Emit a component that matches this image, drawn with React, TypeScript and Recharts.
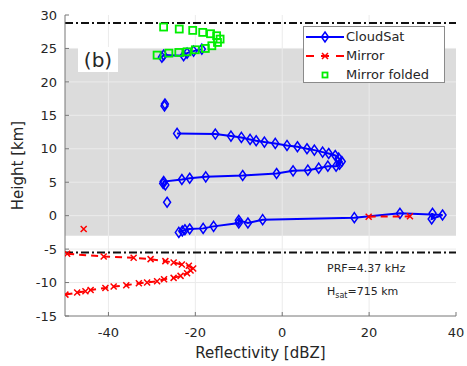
import {
  ScatterChart,
  Scatter,
  XAxis,
  YAxis,
  ReferenceArea,
  ReferenceLine,
} from "recharts"

const FONT = "'DejaVu Sans', sans-serif"
const INK = "#262626"

const xTicks = [-40, -20, 0, 20, 40]
const yTicks = [-15, -10, -5, 0, 5, 10, 15, 20, 25, 30]

// [reflectivity dBZ, height km]
const cloudSatTop: [number, number][] = [
  [-27.7, 23.7], [-27.3, 24.0], [-22.7, 23.9], [-21.9, 24.3], [-20.4, 24.6], [-18.5, 24.9],
]
const cloudSatLone1: [number, number][] = [[-27.1, 16.4], [-27.0, 16.7]]
const cloudSatCurve: [number, number][] = [
  [-24.2, 12.3], [-15.4, 12.2], [-11.8, 11.9], [-9.4, 11.7], [-7.4, 11.4], [-6.0, 11.2],
  [-4.1, 11.0], [-1.6, 10.8], [1.1, 10.5], [3.5, 10.3], [5.7, 10.0], [7.4, 9.8],
  [9.3, 9.5], [10.7, 9.3], [12.2, 9.0], [13.0, 8.6], [13.7, 8.1], [13.2, 7.7],
  [12.4, 7.4], [10.5, 7.4], [8.4, 7.1], [5.9, 6.8], [2.5, 6.7], [-1.3, 6.3],
  [-9.1, 6.0], [-17.6, 5.8], [-21.3, 5.6], [-23.1, 5.4], [-27.3, 5.1], [-27.4, 4.8],
  [-26.9, 4.6],
]
const cloudSatLone2: [number, number][] = [[-26.5, 2.0]]
const cloudSatLow: [number, number][] = [
  [-23.8, -2.5], [-23.0, -2.3], [-22.4, -2.1], [-21.3, -2.0], [-18.2, -1.9], [-15.8, -1.6],
  [-10.0, -1.1], [-10.0, -0.7], [-7.9, -1.1], [-4.5, -0.6], [16.6, -0.3], [27.1, 0.35],
  [36.9, 0.1], [34.4, -0.5], [34.6, 0.35],
]

const mirrorLone: [number, number][] = [[-45.7, -2.0]]
const mirrorNear: [number, number][] = [[19.9, -0.15], [29.4, -0.1]]
const mirrorLow: [number, number][] = [
  [-49.5, -5.7], [-41.1, -6.1], [-34.2, -6.3], [-30.3, -6.5], [-26.9, -6.8], [-25.0, -7.0],
  [-23.1, -7.3], [-21.5, -7.5], [-20.5, -7.9], [-21.1, -8.2], [-21.9, -8.6], [-23.4, -9.0],
  [-25.0, -9.3], [-27.2, -9.5], [-28.8, -9.8], [-31.1, -10.0], [-33.0, -10.1], [-35.9, -10.4],
  [-38.8, -10.6], [-40.7, -10.8], [-44.1, -11.1], [-45.3, -11.3], [-47.2, -11.5], [-49.9, -11.8],
]

const mirrorFolded: [number, number][] = [
  [-27.3, 28.2], [-23.7, 27.9], [-20.6, 27.7], [-18.3, 27.4], [-16.5, 27.2], [-15.1, 26.9],
  [-14.3, 26.4], [-14.9, 25.9], [-16.2, 25.4], [-17.7, 25.0], [-20.0, 24.8], [-21.9, 24.5],
  [-23.8, 24.4], [-26.1, 24.3], [-28.8, 24.0],
]

const shadedBand = [-3, 25]
const aliasLines = [28.8, -5.5]

const pts = (a: [number, number][]) => a.map(([x, y]) => ({ x, y }))

const BLUE = "#0000ff"
const RED = "#ff0000"
const GREEN = "#00ee00"

const Diamond = (p: any) => (
  <path
    d={`M${p.cx},${p.cy - 5}L${p.cx + 3.5},${p.cy}L${p.cx},${p.cy + 5}L${p.cx - 3.5},${p.cy}Z`}
    fill="none"
    stroke={BLUE}
    strokeWidth={1.5}
  />
)
const Cross = (p: any) => (
  <path
    d={`M${p.cx - 3},${p.cy - 3}L${p.cx + 3},${p.cy + 3}M${p.cx - 3},${p.cy + 3}L${p.cx + 3},${p.cy - 3}`}
    stroke={RED}
    strokeWidth={1.5}
  />
)
const Square = (p: any) => (
  <rect x={p.cx - 3.5} y={p.cy - 3.5} width={7} height={7} fill="none" stroke={GREEN} strokeWidth={1.8} />
)

const blueLine = { stroke: BLUE, strokeWidth: 2 }
const redLine = { stroke: RED, strokeWidth: 2, strokeDasharray: "7 5" }

function LegendBox() {
  const row = { display: "flex", alignItems: "center", height: 19 }
  return (
    <div
      style={{
        position: "absolute",
        left: 303,
        top: 26,
        width: 142,
        height: 57,
        background: "#fff",
        border: "1px solid #8a8a8a",
        fontFamily: FONT,
        fontSize: 13,
        color: INK,
        boxSizing: "border-box",
        paddingTop: 0,
      }}
    >
      <div style={row}>
        <svg width={42} height={14}>
          <line x1={2} y1={7} x2={40} y2={7} stroke={BLUE} strokeWidth={2} />
          <Diamond cx={21} cy={7} />
        </svg>
        <span>CloudSat</span>
      </div>
      <div style={row}>
        <svg width={42} height={14}>
          <line x1={2} y1={7} x2={40} y2={7} stroke={RED} strokeWidth={2} strokeDasharray="8 7" />
          <Cross cx={21} cy={7} />
        </svg>
        <span>Mirror</span>
      </div>
      <div style={row}>
        <svg width={42} height={14}>
          <rect x={18.5} y={4.5} width={5} height={5} fill="none" stroke={GREEN} strokeWidth={1.8} />
        </svg>
        <span>Mirror folded</span>
      </div>
    </div>
  )
}

export default function App() {
  return (
    <div style={{ position: "absolute", left: 0, top: 0, width: 467, height: 366, background: "#fff" }}>
      <ScatterChart width={467} height={366} margin={{ top: 15, right: 11, left: 0, bottom: 0 }}>
        <XAxis
          type="number"
          dataKey="x"
          domain={[-50, 40]}
          ticks={xTicks}
          allowDataOverflow
          height={50}
          tickSize={-4}
          tickMargin={16}
          stroke="#777"
          tick={{ fontSize: 13, fill: INK, fontFamily: FONT }}
          label={{
            value: "Reflectivity [dBZ]",
            position: "insideBottom",
            offset: 8,
            style: { fontSize: 15, fill: INK, fontFamily: FONT },
          }}
        />
        <XAxis
          xAxisId="top"
          orientation="top"
          type="number"
          domain={[-50, 40]}
          ticks={xTicks}
          height={0}
          tickSize={-4}
          tick={false}
          stroke="#777"
        />
        <YAxis
          type="number"
          dataKey="y"
          domain={[-15, 30]}
          ticks={yTicks}
          allowDataOverflow
          width={65}
          tickSize={-4}
          tickMargin={12}
          stroke="#777"
          tick={{ fontSize: 13, fill: INK, fontFamily: FONT }}
          label={{
            value: "Height [km]",
            angle: -90,
            position: "insideLeft",
            offset: 18,
            style: { fontSize: 15, fill: INK, fontFamily: FONT, textAnchor: "middle" },
          }}
        />
        <YAxis
          yAxisId="right"
          orientation="right"
          type="number"
          domain={[-15, 30]}
          ticks={yTicks}
          width={0}
          tickSize={-4}
          tick={false}
          stroke="#777"
        />
        <ReferenceArea
          y1={shadedBand[0]}
          y2={shadedBand[1]}
          x1={-50}
          x2={40}
          fill="#dcdcdc"
          fillOpacity={1}
          stroke="none"
        />
        {xTicks.slice(0, -1).map((t) => (
          <ReferenceLine key={"gx" + t} x={t} stroke="#ebebeb" strokeWidth={1} />
        ))}
        {yTicks.slice(1, -1).map((t) => (
          <ReferenceLine key={"gy" + t} y={t} stroke="#ebebeb" strokeWidth={1} />
        ))}
        {aliasLines.map((h) => (
          <ReferenceLine key={"a" + h} y={h} stroke="#111" strokeWidth={2} strokeDasharray="8 3 2 3" />
        ))}
        <Scatter name="Mirror" data={pts(mirrorLow)} line={redLine} shape={Cross} isAnimationActive={false} />
        <Scatter data={pts(mirrorLone)} shape={Cross} isAnimationActive={false} />
        <Scatter name="CloudSat" data={pts(cloudSatTop)} line={blueLine} shape={Diamond} isAnimationActive={false} />
        <Scatter data={pts(cloudSatLone1)} shape={Diamond} isAnimationActive={false} />
        <Scatter data={pts(cloudSatCurve)} line={blueLine} shape={Diamond} isAnimationActive={false} />
        <Scatter data={pts(cloudSatLone2)} shape={Diamond} isAnimationActive={false} />
        <Scatter data={pts(cloudSatLow)} line={blueLine} shape={Diamond} isAnimationActive={false} />
        <Scatter data={pts(mirrorNear)} line={redLine} shape={Cross} isAnimationActive={false} />
        <Scatter name="Mirror folded" data={pts(mirrorFolded)} shape={Square} isAnimationActive={false} />
      </ScatterChart>
      <LegendBox />
      <div
        style={{
          position: "absolute",
          left: 78,
          top: 47,
          width: 40,
          height: 25,
          background: "#fff",
          fontFamily: FONT,
          fontSize: 20,
          color: INK,
          display: "flex",
          alignItems: "center",
          justifyContent: "center",
        }}
      >
        (b)
      </div>
      <div style={{ position: "absolute", left: 327, top: 262, fontFamily: FONT, fontSize: 11, color: INK, whiteSpace: "nowrap" }}>
        PRF=4.37 kHz
      </div>
      <div style={{ position: "absolute", left: 327, top: 285, fontFamily: FONT, fontSize: 11, color: INK, whiteSpace: "nowrap" }}>
        H<sub style={{ fontSize: 8 }}>sat</sub>=715 km
      </div>
    </div>
  )
}
